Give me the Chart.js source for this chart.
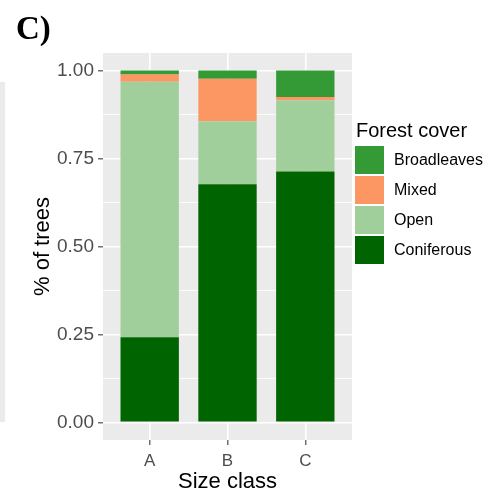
<!DOCTYPE html>
<html>
<head>
<meta charset="utf-8">
<script src="https://cdn.jsdelivr.net/npm/chart.js@4.4.0/dist/chart.umd.min.js"></script>
<style>
    html, body { margin: 0; padding: 0; background: #fff; }
    #wrap { position: relative; width: 498px; height: 495px; font-family: "Liberation Sans", Arial, sans-serif; }
    #myChart { position: absolute; left: 0; top: 0; }
    .etiqueta { position: absolute; left: 16px; top: 12px; font: bold 33px/33px "Liberation Serif", "Times New Roman", serif; }
    .resto { position: absolute; left: 0; top: 82px; width: 5px; height: 340px; background: #ebebeb; }
    #leyenda { position: absolute; left: 355px; top: 120px; }
    #leyenda .titulo { font-size: 20px; line-height: 20px; margin-left: 1px; margin-bottom: 5px; color: #000; }
    #leyenda .item { display: flex; align-items: center; height: 30px; }
    #leyenda .caja { width: 29px; height: 28px; }
    #leyenda .texto { font-size: 16px; line-height: 16px; margin-left: 10px; color: #000; }
</style>
</head>
<body>
<div id="wrap">
    <canvas id="myChart" width="498" height="495"></canvas>
    <div class="etiqueta">C)</div>
    <div class="resto"></div>
    <div id="leyenda"></div>
</div>
<script>
// datos
const categorias = ["A", "B", "C"];
const coniferas = [0.242, 0.677, 0.713];
const abierto = [0.726, 0.179, 0.203];
const mixto = [0.021, 0.121, 0.009];
const frondosas = [0.011, 0.023, 0.075];
const ticksY = [0, 0.25, 0.5, 0.75, 1];
const ticksMenores = [0.125, 0.375, 0.625, 0.875];

const series = [
    { nombre: "Coniferous", datos: coniferas, color: "#006400" },
    { nombre: "Open", datos: abierto, color: "#a0cf9c" },
    { nombre: "Mixed", datos: mixto, color: "#fc9764" },
    { nombre: "Broadleaves", datos: frondosas, color: "#349a35" }
];

Chart.defaults.font.family = '"Liberation Sans", Arial, sans-serif';

const fondoPanel = {
    id: "fondoPanel",
    beforeDraw(chart) {
        const { ctx, chartArea: a } = chart;
        ctx.save();
        ctx.fillStyle = "#ebebeb";
        ctx.fillRect(a.left, a.top, a.right - a.left, a.bottom - a.top);
        ctx.restore();
    }
};

function esMayor(ctx) {
    return ctx.tick && ticksY.includes(ctx.tick.value);
}

document.addEventListener("DOMContentLoaded", iniciar);

function iniciar() {
    crearGrafico(document.getElementById("myChart"));
    crearLeyenda();
}

function crearGrafico(canvas) {
    return new Chart(canvas, {
        type: "bar",
        data: {
            datasets: series.map(s => ({
                label: s.nombre,
                data: s.datos.map((v, i) => ({ x: i + 1, y: v })),
                backgroundColor: s.color,
                borderWidth: 0,
                barPercentage: 0.75,
                categoryPercentage: 1
            }))
        },
        options: {
            responsive: false,
            animation: false,
            layout: { padding: { left: 0, top: 53, right: 146, bottom: 0 } },
            plugins: { legend: { display: false }, tooltip: { enabled: false } },
            scales: {
                x: {
                    type: "linear",
                    min: 0.4,
                    max: 3.6,
                    stacked: true,
                    offset: false,
                    afterBuildTicks: s => { s.ticks = categorias.map((c, i) => ({ value: i + 1 })); },
                    ticks: { callback: v => categorias[v - 1], color: "#4d4d4d", font: { size: 17 }, padding: 6, maxRotation: 0 },
                    grid: { offset: false, color: "#fff", lineWidth: 1.6, tickColor: "#4d4d4d", tickLength: 5, tickWidth: 1.2 },
                    border: { display: false },
                    title: { display: true, text: "Size class", color: "#000", font: { size: 22 }, padding: { top: 0, bottom: 0 } },
                    afterFit: s => { s.height = 55; }
                },
                y: {
                    stacked: true,
                    min: -0.05,
                    max: 1.05,
                    afterBuildTicks: s => {
                        s.ticks = ticksY.concat(ticksMenores).sort((a, b) => a - b).map(v => ({ value: v }));
                    },
                    ticks: { callback: v => ticksY.includes(v) ? v.toFixed(2) : "", color: "#4d4d4d", font: { size: 19 }, padding: 4 },
                    grid: {
                        color: "#fff",
                        lineWidth: ctx => esMayor(ctx) ? 1.6 : 0.8,
                        tickColor: ctx => esMayor(ctx) ? "#4d4d4d" : "rgba(0,0,0,0)",
                        tickLength: 5,
                        tickWidth: 1.2
                    },
                    border: { display: false },
                    title: { display: true, text: "% of trees", color: "#000", font: { size: 22 }, padding: { top: 30, bottom: 0 } },
                    afterFit: s => { s.width = 103; }
                }
            }
        },
        plugins: [fondoPanel]
    });
}

function crearLeyenda() {
    const caja = document.getElementById("leyenda");
    let html = '<div class="titulo">Forest cover</div>';
    series.slice().reverse().forEach(s => {
        html += '<div class="item"><div class="caja" style="background:' + s.color + '"></div>' +
            '<div class="texto">' + s.nombre + '</div></div>';
    });
    caja.innerHTML = html;
}
</script>
</body>
</html>
